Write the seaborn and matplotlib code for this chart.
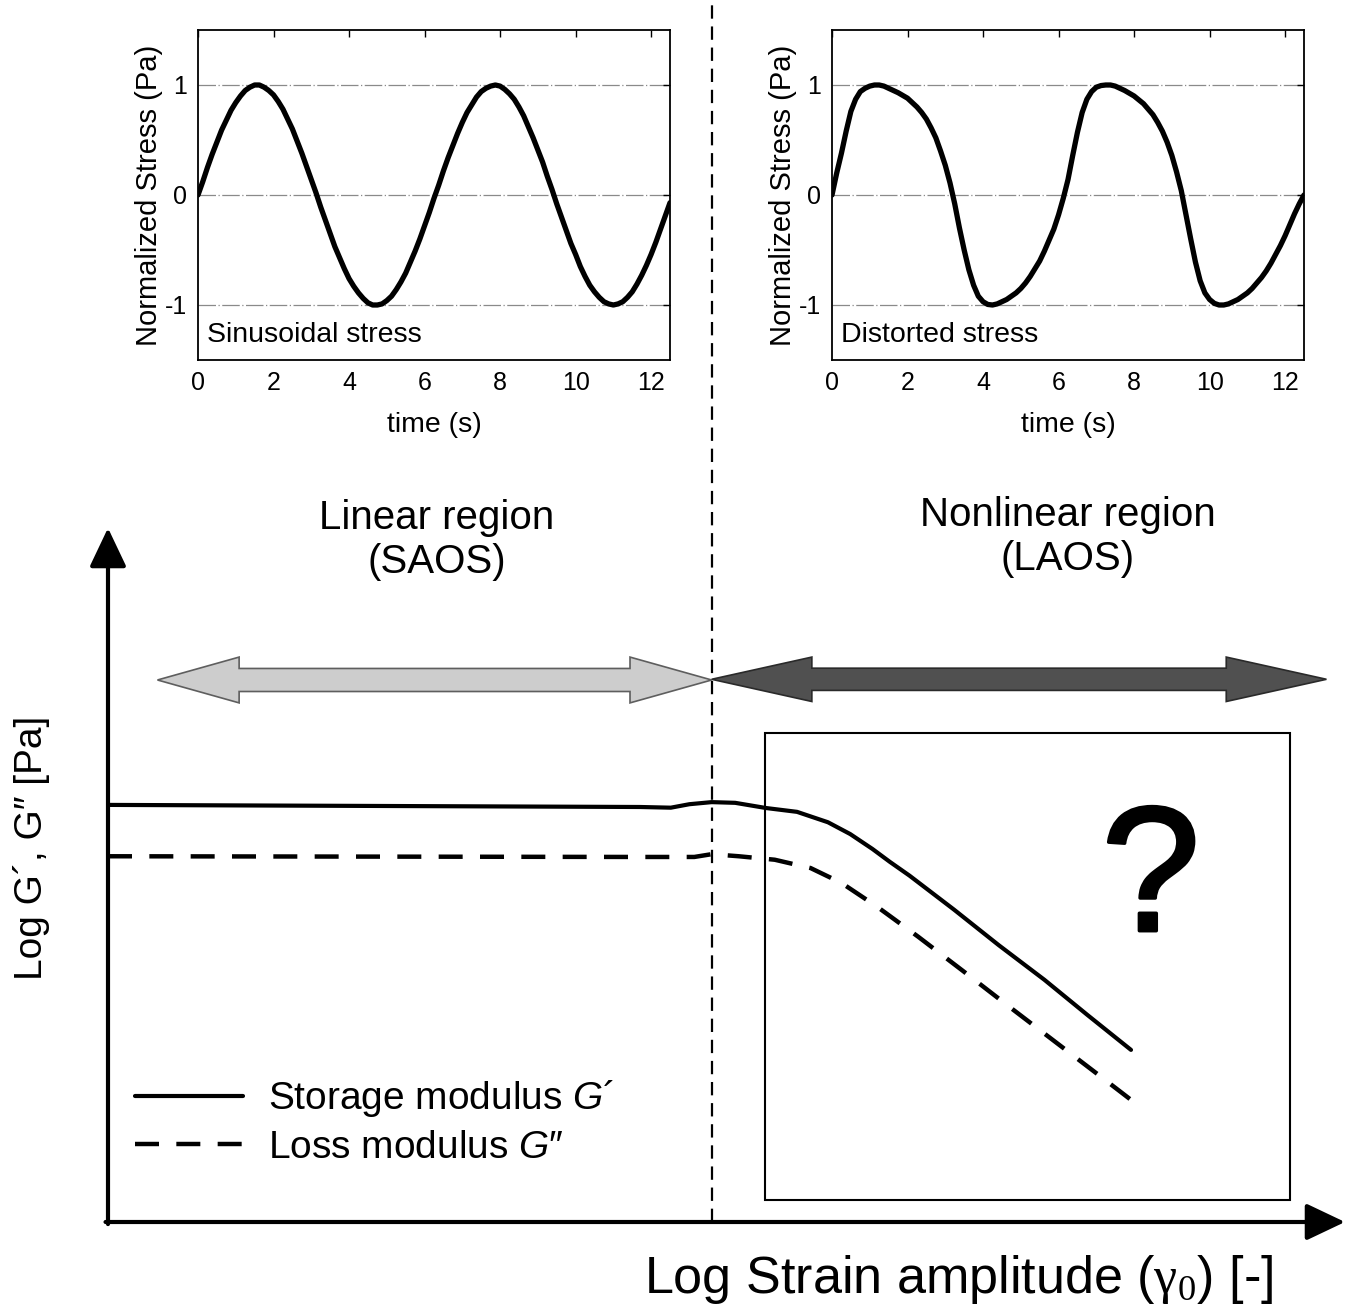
import numpy as np
import matplotlib
matplotlib.use("Agg")
import matplotlib.pyplot as plt
import matplotlib.patheffects as pe
import seaborn as sns
from matplotlib.lines import Line2D
from matplotlib.patches import Polygon, Rectangle

# ---------------- data ----------------
time_s = np.linspace(0, 12.5, 101)
sinusoidal_stress = [
    0.00, 0.12, 0.25, 0.37, 0.48, 0.59, 0.68, 0.77, 0.84, 0.90,
    0.95, 0.98, 1.00, 1.00, 0.98, 0.95, 0.91, 0.85, 0.78, 0.69,
    0.60, 0.49, 0.38, 0.26, 0.14, 0.02, -0.11, -0.23, -0.35, -0.47,
    -0.57, -0.67, -0.76, -0.83, -0.89, -0.94, -0.98, -1.00, -1.00, -0.99,
    -0.96, -0.92, -0.86, -0.79, -0.71, -0.61, -0.51, -0.40, -0.28, -0.16,
    -0.03, 0.09, 0.22, 0.34, 0.45, 0.56, 0.66, 0.75, 0.82, 0.89,
    0.94, 0.97, 0.99, 1.00, 0.99, 0.96, 0.92, 0.87, 0.80, 0.72,
    0.62, 0.52, 0.41, 0.30, 0.17, 0.05, -0.08, -0.20, -0.32, -0.44,
    -0.54, -0.65, -0.74, -0.82, -0.88, -0.93, -0.97, -0.99, -1.00, -0.99,
    -0.97, -0.93, -0.88, -0.81, -0.73, -0.64, -0.54, -0.43, -0.31, -0.19,
    -0.07]
distorted_stress = [
    0.00, 0.20, 0.38, 0.58, 0.76, 0.87, 0.94, 0.97, 0.99, 1.00,
    1.00, 0.99, 0.97, 0.95, 0.93, 0.905, 0.88, 0.84, 0.80, 0.75,
    0.69, 0.61, 0.52, 0.40, 0.27, 0.11, -0.08, -0.30, -0.50, -0.68,
    -0.82, -0.92, -0.97, -0.995, -1.00, -0.99, -0.97, -0.95, -0.92, -0.89,
    -0.85, -0.80, -0.74, -0.67, -0.60, -0.51, -0.41, -0.31, -0.18, -0.03,
    0.14, 0.36, 0.57, 0.75, 0.87, 0.94, 0.98, 0.995, 1.00, 1.00,
    0.99, 0.97, 0.95, 0.925, 0.90, 0.865, 0.83, 0.78, 0.73, 0.66,
    0.58, 0.48, 0.36, 0.21, 0.04, -0.18, -0.40, -0.61, -0.78, -0.89,
    -0.95, -0.985, -1.00, -1.00, -0.99, -0.97, -0.95, -0.92, -0.89, -0.85,
    -0.80, -0.75, -0.69, -0.62, -0.54, -0.46, -0.37, -0.27, -0.17, -0.08,
    0.00]

strain_storage = [0.00, 4.30, 4.55, 4.70, 4.88, 5.07, 5.32, 5.57, 5.82, 6.00,
                  6.18, 6.32, 6.48, 6.84, 7.20, 7.57, 7.92, 8.27]
storage_modulus = [6.01, 5.98, 5.97, 6.02, 6.05, 6.04, 5.965, 5.91, 5.76, 5.59,
                   5.375, 5.19, 4.99, 4.50, 3.99, 3.49, 2.98, 2.48]
strain_loss = [0.00, 4.30, 4.74, 4.88, 5.10, 5.39, 5.68, 5.93, 6.22, 6.55,
               6.91, 7.28, 7.64, 8.00, 8.27]
loss_modulus = [5.27, 5.26, 5.26, 5.30, 5.27, 5.22, 5.10, 4.885, 4.54, 4.11,
                3.62, 3.11, 2.62, 2.13, 1.76]

time_ticks = [0, 2, 4, 6, 8, 10, 12]
stress_ticks = [-1, 0, 1]
linear_boundary = 4.88

# ---------------- style ----------------
sns.set_theme(style="white", rc={"text.color": "black", "axes.labelcolor": "black",
                                 "xtick.color": "black", "ytick.color": "black",
                                 "axes.edgecolor": "black"})
plt.rcParams["font.family"] = ["Liberation Sans", "DejaVu Sans"]
plt.rcParams["mathtext.fontset"] = "custom"
plt.rcParams["mathtext.rm"] = "Liberation Serif"
plt.rcParams["mathtext.it"] = "Liberation Sans:italic"
plt.rcParams["axes.unicode_minus"] = False

W, H = 1350, 1307
fig = plt.figure(figsize=(W / 100, H / 100), dpi=100)
fig.patch.set_facecolor("white")


def stress_panel(left, values, note):
    ax = fig.add_axes([left / W, 1 - 360 / H, 472 / W, 330 / H])
    for yv in stress_ticks:
        ax.axhline(yv, color="#8a8a8a", lw=0.9, ls=(0, (14, 2, 1, 2)), zorder=0)
    sns.lineplot(x=time_s, y=values, ax=ax, color="black", lw=3.8, sort=False)
    ax.set_xlim(0, 12.5)
    ax.set_ylim(-1.5, 1.5)
    ax.set_xticks(time_ticks)
    ax.set_yticks(stress_ticks)
    ax.tick_params(direction="in", top=True, right=True, labelsize=18,
                   length=5, width=1, pad=8)
    for s in ax.spines.values():
        s.set_visible(True)
        s.set_color("black")
        s.set_linewidth(1.3)
    ax.set_xlabel("time (s)", fontsize=20.5, labelpad=12)
    ax.set_ylabel("Normalized Stress (Pa)", fontsize=21, labelpad=1)
    ax.text(0.24, -1.27, note, fontsize=20.5, ha="left", va="center")
    return ax


stress_panel(198, sinusoidal_stress, "Sinusoidal stress")
stress_panel(832, distorted_stress, "Distorted stress")

# ---------------- main schematic ----------------
ax = fig.add_axes([108 / W, 1 - 1222 / H, (1345 - 108) / W, (1222 - 528) / H])
ax.set_xlim(0, 10)
ax.set_ylim(0, 10)
ax.axis("off")

arrow_kw = dict(arrowstyle="-|>,head_length=0.8,head_width=0.38", lw=3.0,
                color="black", shrinkA=0, shrinkB=0, mutation_scale=30)
ax.annotate("", xy=(10, 0), xytext=(-0.02, 0), arrowprops=arrow_kw, annotation_clip=False)
ax.annotate("", xy=(0, 10), xytext=(0, -0.03), arrowprops=arrow_kw, annotation_clip=False)

sns.lineplot(x=strain_storage, y=storage_modulus, ax=ax, color="black", lw=3.0, sort=False)
sns.lineplot(x=strain_loss, y=loss_modulus, ax=ax, color="black", lw=3.2,
             linestyle=(0, (5.4, 3.9)), sort=False)

ax.plot([linear_boundary, linear_boundary], [0, 17.61], color="black", lw=1.6,
        ls=(0, (6, 3.5)), clip_on=False, zorder=1)


def double_arrow(x0, x1, y, half_shaft, half_head, head_len, fc, ec):
    pts = [(x0, y), (x0 + head_len, y + half_head), (x0 + head_len, y + half_shaft),
           (x1 - head_len, y + half_shaft), (x1 - head_len, y + half_head), (x1, y),
           (x1 - head_len, y - half_head), (x1 - head_len, y - half_shaft),
           (x0 + head_len, y - half_shaft), (x0 + head_len, y - half_head)]
    ax.add_patch(Polygon(pts, closed=True, fc=fc, ec=ec, lw=1.2, clip_on=False, zorder=3))


double_arrow(0.40, linear_boundary, 7.81, 0.166, 0.33, 0.66, "#cdcdcd", "#5e5e5e")
double_arrow(linear_boundary, 9.85, 7.82, 0.16, 0.32, 0.81, "#505050", "#2a2a2a")

ax.add_patch(Rectangle((5.31, 0.32), 4.245, 6.73, fill=False, ec="black", lw=1.5,
                       clip_on=False))
ax.text(8.43, 4.86, "?", fontsize=128, ha="center", va="center",
        path_effects=[pe.withStroke(linewidth=2.5, foreground="black")])

handles = [Line2D([], [], color="black", lw=3.0),
           Line2D([], [], color="black", lw=3.2, linestyle=(0, (5.4, 3.9)))]
labels = ["Storage modulus $\\mathit{G}$\u00b4", "Loss modulus $\\mathit{G}$\u2033"]
fig.legend(handles, labels, loc="lower left", bbox_to_anchor=(135 / W, 1 - 1166 / H),
           frameon=False, fontsize=28, handlelength=2.78, handletextpad=0.64,
           labelspacing=0.28, borderpad=0, borderaxespad=0)

fig.text(437 / W, 1 - 540 / H, "Linear region\n(SAOS)", fontsize=29, ha="center",
         va="center", linespacing=1.2)
fig.text(1068 / W, 1 - 537 / H, "Nonlinear region\n(LAOS)", fontsize=29, ha="center",
         va="center", linespacing=1.2)
fig.text(32 / W, 1 - 848 / H, "Log G\u00b4, G\u2033 [Pa]", rotation=90, fontsize=28,
         ha="center", va="center")
fig.text(959 / W, 1 - 1279 / H, r"Log Strain amplitude ($\mathrm{\gamma_0}$) [-]",
         fontsize=37.5, ha="center", va="center")

fig.savefig("out.png", dpi=100, facecolor="white")
